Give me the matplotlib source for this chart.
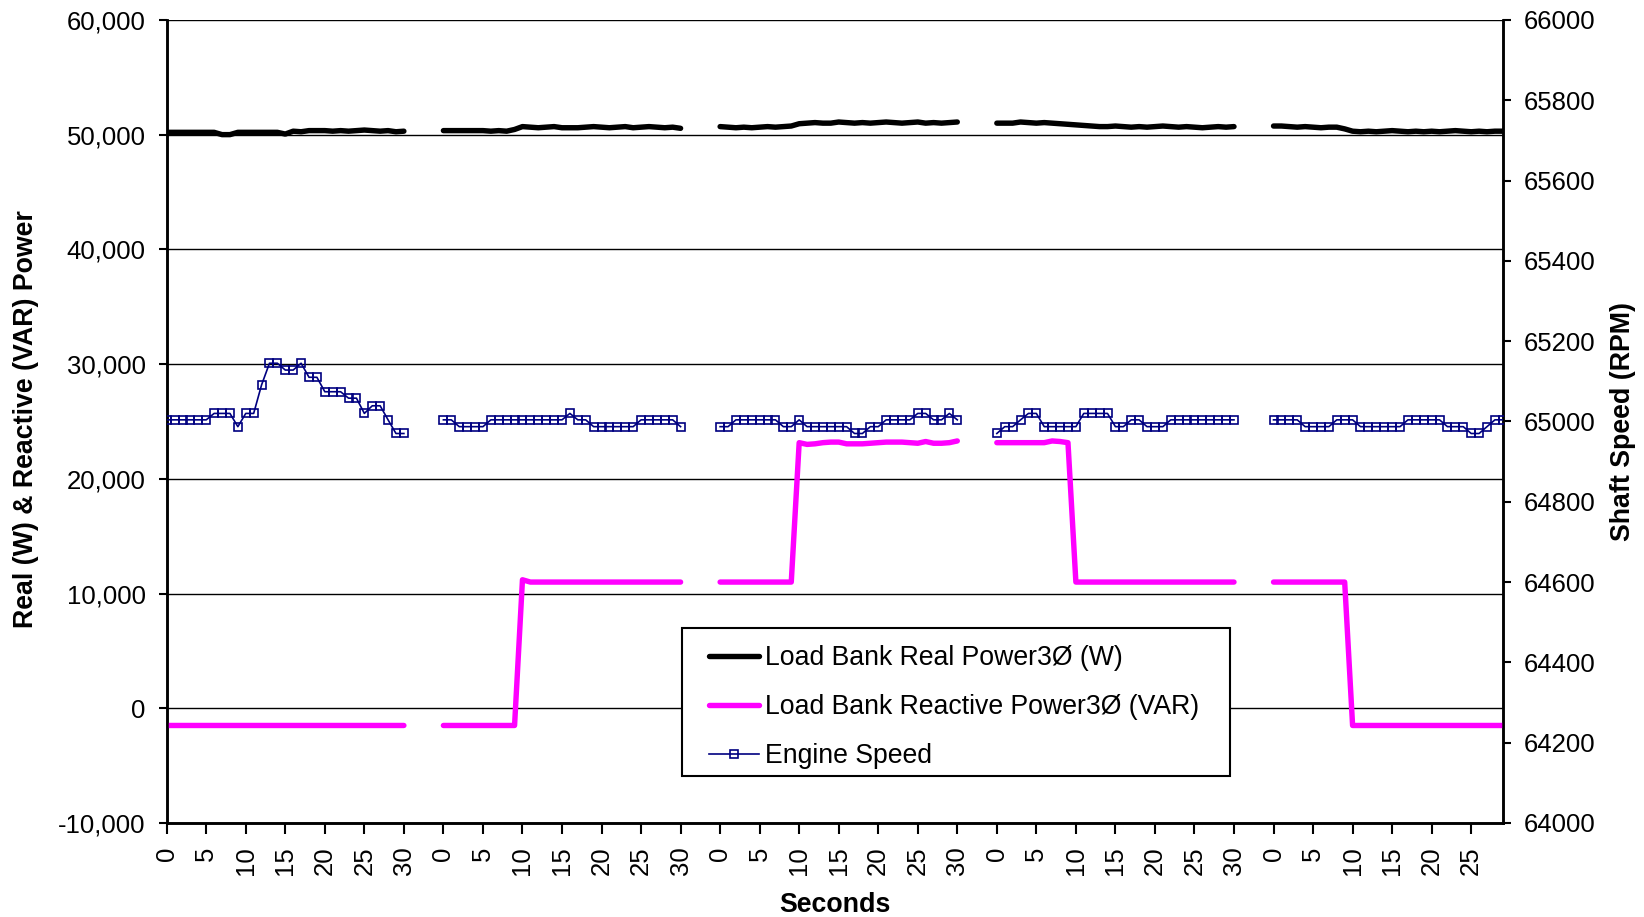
import numpy as np
import matplotlib
matplotlib.use("Agg")
import matplotlib.pyplot as plt
from matplotlib.patches import Rectangle

plt.rcParams['font.family'] = ['Liberation Sans', 'DejaVu Sans']

# ---------------- data ----------------
SEG_LEN = 35          # categories per test block (0..34, data only 0..30)
N_CAT = 170

real_power = [
    [50200, 50200, 50200, 50200, 50200, 50200, 50200, 50000, 50000, 50200, 50200,
     50200, 50200, 50200, 50200, 50050, 50300, 50250, 50350, 50350, 50350, 50300,
     50350, 50300, 50350, 50400, 50350, 50300, 50350, 50250, 50300],
    [50350, 50350, 50350, 50350, 50350, 50350, 50300, 50350, 50300, 50450, 50700,
     50650, 50600, 50650, 50700, 50600, 50600, 50600, 50650, 50700, 50650, 50600,
     50650, 50700, 50600, 50650, 50700, 50650, 50600, 50650, 50550],
    [50700, 50650, 50600, 50650, 50600, 50650, 50700, 50650, 50700, 50750, 50950,
     51000, 51050, 51000, 51000, 51100, 51050, 51000, 51050, 51000, 51050, 51100,
     51050, 51000, 51050, 51100, 51000, 51050, 51000, 51050, 51100],
    [51000, 51000, 51000, 51100, 51050, 51000, 51050, 51000, 50950, 50900, 50850,
     50800, 50750, 50700, 50700, 50750, 50700, 50650, 50700, 50650, 50700, 50750,
     50700, 50650, 50700, 50650, 50600, 50650, 50700, 50650, 50700],
    [50750, 50750, 50700, 50650, 50700, 50650, 50600, 50650, 50650, 50500, 50300,
     50250, 50300, 50250, 50300, 50350, 50300, 50250, 50300, 50250, 50300, 50250,
     50300, 50350, 50300, 50250, 50300, 50250, 50300, 50300],
]

reactive_power = [
    [-1500] * 31,
    [-1500] * 10 + [11200] + [11000] * 20,
    [11000] * 10 + [23150, 23000, 23050, 23150, 23200, 23200, 23050, 23050, 23050,
                    23100, 23150, 23200, 23200, 23200, 23150, 23100, 23250, 23100,
                    23100, 23150, 23300],
    [23150] * 7 + [23300, 23250, 23150] + [11000] * 21,
    [11000] * 10 + [-1500] * 20,
]

engine_speed = [
    [65004] * 6 + [65020] * 3 + [64987] + [65020] * 2 + [65091] + [65145] * 2 +
    [65128] * 2 + [65145] + [65110] * 2 + [65074] * 3 + [65058] * 2 + [65020] +
    [65039] * 2 + [65004] + [64970] * 2,
    [65004] * 2 + [64987] * 4 + [65004] * 10 + [65020] + [65004] * 2 + [64987] * 6 +
    [65004] * 5 + [64987],
    [64987] * 2 + [65004] * 6 + [64987] * 2 + [65004] + [64987] * 6 + [64970] * 2 +
    [64987] * 2 + [65004] * 4 + [65020] * 2 + [65004] * 2 + [65020] + [65004],
    [64970] + [64987] * 2 + [65004] + [65020] * 2 + [64987] * 5 + [65020] * 4 +
    [64987] * 2 + [65004] * 2 + [64987] * 3 + [65004] * 9,
    [65004] * 4 + [64987] * 4 + [65004] * 3 + [64987] * 6 + [65004] * 5 +
    [64987] * 3 + [64970] * 2 + [64987] + [65004] * 2,
]

left_ticks = [-10000, 0, 10000, 20000, 30000, 40000, 50000, 60000]
right_ticks = list(range(64000, 66001, 200))

labels = ["Load Bank Real Power3Ø (W)", "Load Bank Reactive Power3Ø (VAR)", "Engine Speed"]


def assemble(segments):
    arr = np.full(N_CAT, np.nan)
    for k, seg in enumerate(segments):
        arr[k * SEG_LEN:k * SEG_LEN + len(seg)] = seg
    return arr


x = np.arange(N_CAT)
y_real = assemble(real_power)
y_reac = assemble(reactive_power)
y_rpm = assemble(engine_speed)

# ---------------- figure ----------------
W, H = 1644, 917
fig = plt.figure(figsize=(W / 100, H / 100), dpi=100)
L, R, T, B = 166.7, 1502.8, 19.9, 823.0
ax = fig.add_axes([L / W, 1 - B / H, (R - L) / W, (B - T) / H])
ax2 = ax.twinx()

FS = 18.5
FS_LAB = 19.3
FS_LEG = 19.2

l1, = ax.plot(x, y_real, color='black', lw=3.9, solid_capstyle='round',
              solid_joinstyle='round', zorder=3)
l2, = ax.plot(x, y_reac, color='#FF00FF', lw=3.9, solid_capstyle='round',
              solid_joinstyle='round', zorder=3)
l3, = ax2.plot(x, y_rpm, color='#000080', lw=1.2, marker='s', ms=6.0,
               mfc='none', mec='#000080', mew=1.2, zorder=3)

ax.set_xlim(0, N_CAT - 1)
ax.set_ylim(-10000, 60000)
ax2.set_ylim(64000, 66000)

ax.set_yticks(left_ticks)
ax.set_yticklabels([f"{v:,}" for v in left_ticks])
ax2.set_yticks(right_ticks)
ax2.set_yticklabels([str(v) for v in right_ticks])

xt = np.arange(0, N_CAT, 5)
ax.set_xticks(xt)
ax.set_xticklabels([str(i % SEG_LEN) for i in xt], rotation=90)

ax.grid(axis='y', color='black', lw=1.0)
ax.set_axisbelow(True)

for a in (ax, ax2):
    for s in a.spines.values():
        s.set_linewidth(1.8)
        s.set_color('black')
    a.spines['top'].set_visible(False)

ax.tick_params(axis='y', direction='out', length=6, width=1.5, labelsize=FS, pad=9)
ax.tick_params(axis='x', direction='out', length=8, width=1.5, labelsize=FS, pad=9)
ax2.tick_params(axis='y', direction='out', length=6, width=1.5, labelsize=FS, pad=9)

fig.text(26 / W, 1 - 419 / H, "Real (W) & Reactive (VAR) Power", rotation=90,
         ha='center', va='center', fontsize=FS_LAB, fontweight='bold')
fig.text(1623 / W, 1 - 421.5 / H, "Shaft Speed (RPM)", rotation=90,
         ha='center', va='center', fontsize=FS_LAB, fontweight='bold')
fig.text((L + R) / 2 / W, 1 - 904.5 / H, "Seconds", ha='center', va='center',
         fontsize=FS_LAB, fontweight='bold')

# legend box (white, black border) drawn above both axes
box = Rectangle((681.5 / W, 1 - 776 / H), 548.5 / W, 148 / H,
                transform=fig.transFigure, facecolor='white', edgecolor='black',
                lw=1.5, zorder=4.5)
fig.patches.append(box)

leg = fig.legend([l1, l2, l3], labels, loc='upper left',
                 bbox_to_anchor=(708.8 / W, 1 - 645.0 / H),
                 bbox_transform=fig.transFigure,
                 fontsize=FS_LEG, frameon=False, borderpad=0, handlelength=1.88,
                 handletextpad=0.24, labelspacing=0.86, borderaxespad=0)
leg.set_zorder(6)

fig.savefig("out.png", dpi=100)
